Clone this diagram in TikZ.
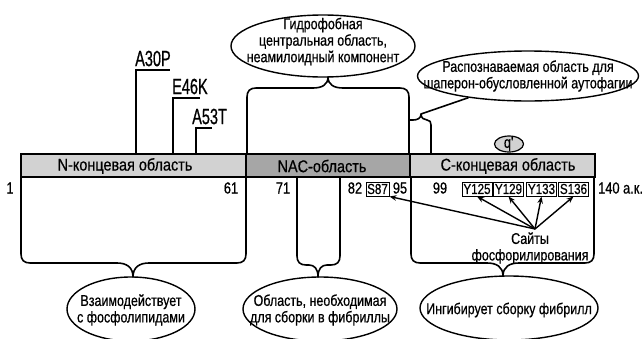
\documentclass[tikz,border=0pt]{standalone}
\usepackage{fontspec}
\setmainfont[FakeStretch=0.8,FakeBold=0.6]{Liberation Sans}
\newfontfamily\mutfont[FakeStretch=0.66,FakeBold=0.6]{Liberation Sans}
\newfontfamily\regfont[FakeStretch=0.85,FakeBold=0.6]{Liberation Sans}
\usetikzlibrary{arrows.meta,shapes.geometric,calc}
\definecolor{lgray}{HTML}{D2D2D2}
\definecolor{dgray}{HTML}{A6A6A6}
\newcommand\mybrace[8]{%
\draw[brc] (#1,#3) -- (#1,{#4-9*(#6)}) .. controls (#1,{#4-3*(#6)}) and ({#1+3},#4) .. ({#1+9},#4) -- ({#5-#8},#4) .. controls ({#5-0.4*#8},#4) and (#5,{#4+0.3*#7*(#6)}) .. (#5,{#4+#7*(#6)}) .. controls (#5,{#4+0.3*#7*(#6)}) and ({#5+0.4*#8},#4) .. ({#5+#8},#4) -- ({#2-9},#4) .. controls ({#2-3},#4) and (#2,{#4-3*(#6)}) .. (#2,{#4-9*(#6)}) -- (#2,#3);}
\begin{document}
\begin{tikzpicture}[x=1pt,y=-1pt,
  brc/.style={line width=1.6pt, line join=round},
  bubble/.style={ellipse, draw, line width=1.4pt, inner sep=0pt},
  btxt/.style={align=center, font=\fontsize{15.6}{16.5}\selectfont, inner sep=0pt},
  num/.style={font=\fontsize{16}{17}\selectfont, inner sep=0pt},
  reg/.style={font=\regfont\fontsize{17}{18}\selectfont, inner sep=0pt},
  site/.style={draw, line width=0.9pt, minimum height=14pt, minimum width=30pt, inner sep=0pt, font=\fontsize{14.5}{15}\selectfont},
  mut/.style={font=\mutfont\fontsize{22}{23}\selectfont, inner sep=0pt, anchor=south west},
  arr/.style={line width=1.4pt, -{Stealth[length=7pt,width=5.5pt]}},
  mline/.style={line width=1.4pt}]
\useasboundingbox (0,0) rectangle (642,338);
% bar
\fill[lgray] (21,154) rectangle (246,177);
\fill[dgray] (246,154) rectangle (410,177);
\fill[lgray] (410,154) rectangle (595,177);
\draw[line width=1.5pt] (21,154) rectangle (595,177);
\draw[line width=1.2pt] (246,154) -- (246,177) (410,154) -- (410,177);
\node[reg] (nlab) at (125,166) {N-концевая область};
\node[reg] (naclab) at (322,166) {NAC-область};
\node[reg] (clab) at (508,166) {С-концевая область};
% q marker
\node[ellipse, draw, fill=lgray, line width=1.2pt, minimum width=29pt, minimum height=16pt, inner sep=0pt] (qm) at (509,144) {};
\node[font=\fontsize{16}{16}\selectfont, inner sep=0pt] (qt) at (509,144) {q\textquotesingle};
% numbers
\node[num] (n1) at (10,188) {1};
\node[num] (n61) at (231,188) {61};
\node[num] (n71) at (283,188) {71};
\node[num] (n82) at (355,188) {82};
\node[site, minimum width=23pt] (s87) at (377.5,189) {S87};
\node[num] (n95) at (400,188) {95};
\node[num] (n99) at (440,188) {99};
\node[site] (y125) at (477,189) {Y125};
\node[site] (y129) at (508.5,189) {Y129};
\node[site] (y133) at (541.5,189) {Y133};
\node[site] (s136) at (573.5,189) {S136};
\node[num, anchor=west] (n140) at (598,188) {140 а.к.};
% mutations
\coordinate (m30a) at (136,154); \coordinate (m30b) at (170,70);
\coordinate (m46a) at (173,154); \coordinate (m46b) at (200,98);
\coordinate (m53a) at (196,154); \coordinate (m53b) at (212,128);
\draw[mline] (m30a) |- (m30b);
\draw[mline] (m46a) |- (m46b);
\draw[mline] (m53a) |- (m53b);
\node[mut] (a30) at (135,66.5) {A30P};
\node[mut] (e46) at (172,94.5) {E46K};
\node[mut] (a53) at (192,124.5) {A53T};
% top bubbles
\node[bubble, minimum width=184pt, minimum height=62pt] (hydE) at (323,46) {};
\node[btxt] (hyd) at (323,41.5) {Гидрофобная\\центральная область,\\неамилоидный компонент};
\mybrace{247}{409}{154}{88}{328}{-1}{11}{15}
\node[bubble, minimum width=221pt, minimum height=50pt] (chapE) at (528,76) {};
\node[btxt] (chap) at (528,76) {Распознаваемая область для\\шаперон-обусловленной аутофагии};
\coordinate (smalltip) at (421,114);
\draw[brc] (409,120) -- (413,120) .. controls (418,120) and (421,118) .. (smalltip) .. controls (421,118) and (424,120) .. (427,120) .. controls (430,120) and (431,122) .. (431,125) -- (431,154);
\draw[brc] (smalltip) -- (chapE.200);
% bottom bubbles
\mybrace{21}{246}{177}{263}{133}{1}{14}{16}
\node[bubble, minimum width=128pt, minimum height=64pt] (vzE) at (131,309) {};
\node[btxt] (vz) at (131,310) {Взаимодействует\\с фосфолипидами};
\mybrace{297}{340}{177}{265}{318}{1}{12}{9}
\node[bubble, minimum width=154pt, minimum height=64pt] (obE) at (320,309) {};
\node[btxt] (ob) at (320,310) {Область, необходимая\\для сборки в фибриллы};
\mybrace{411}{594}{177}{263}{503}{1}{13}{16}
\node[bubble, minimum width=178pt, minimum height=64pt] (ingE) at (509,308) {};
\node[btxt] (ing) at (509,310) {Ингибирует сборку фибрилл};
% phosphorylation sites
\node[btxt] (sites) at (530,248) {Сайты\\фосфорилирования};
\coordinate (hub) at (535,229);
\draw[arr] (hub) -- (s87.south east);
\draw[arr] (hub) -- (y125.south);
\draw[arr] (hub) -- (y129.south);
\draw[arr] (hub) -- (y133.south);
\draw[arr] (hub) -- (s136.south);
\end{tikzpicture}
\end{document}
